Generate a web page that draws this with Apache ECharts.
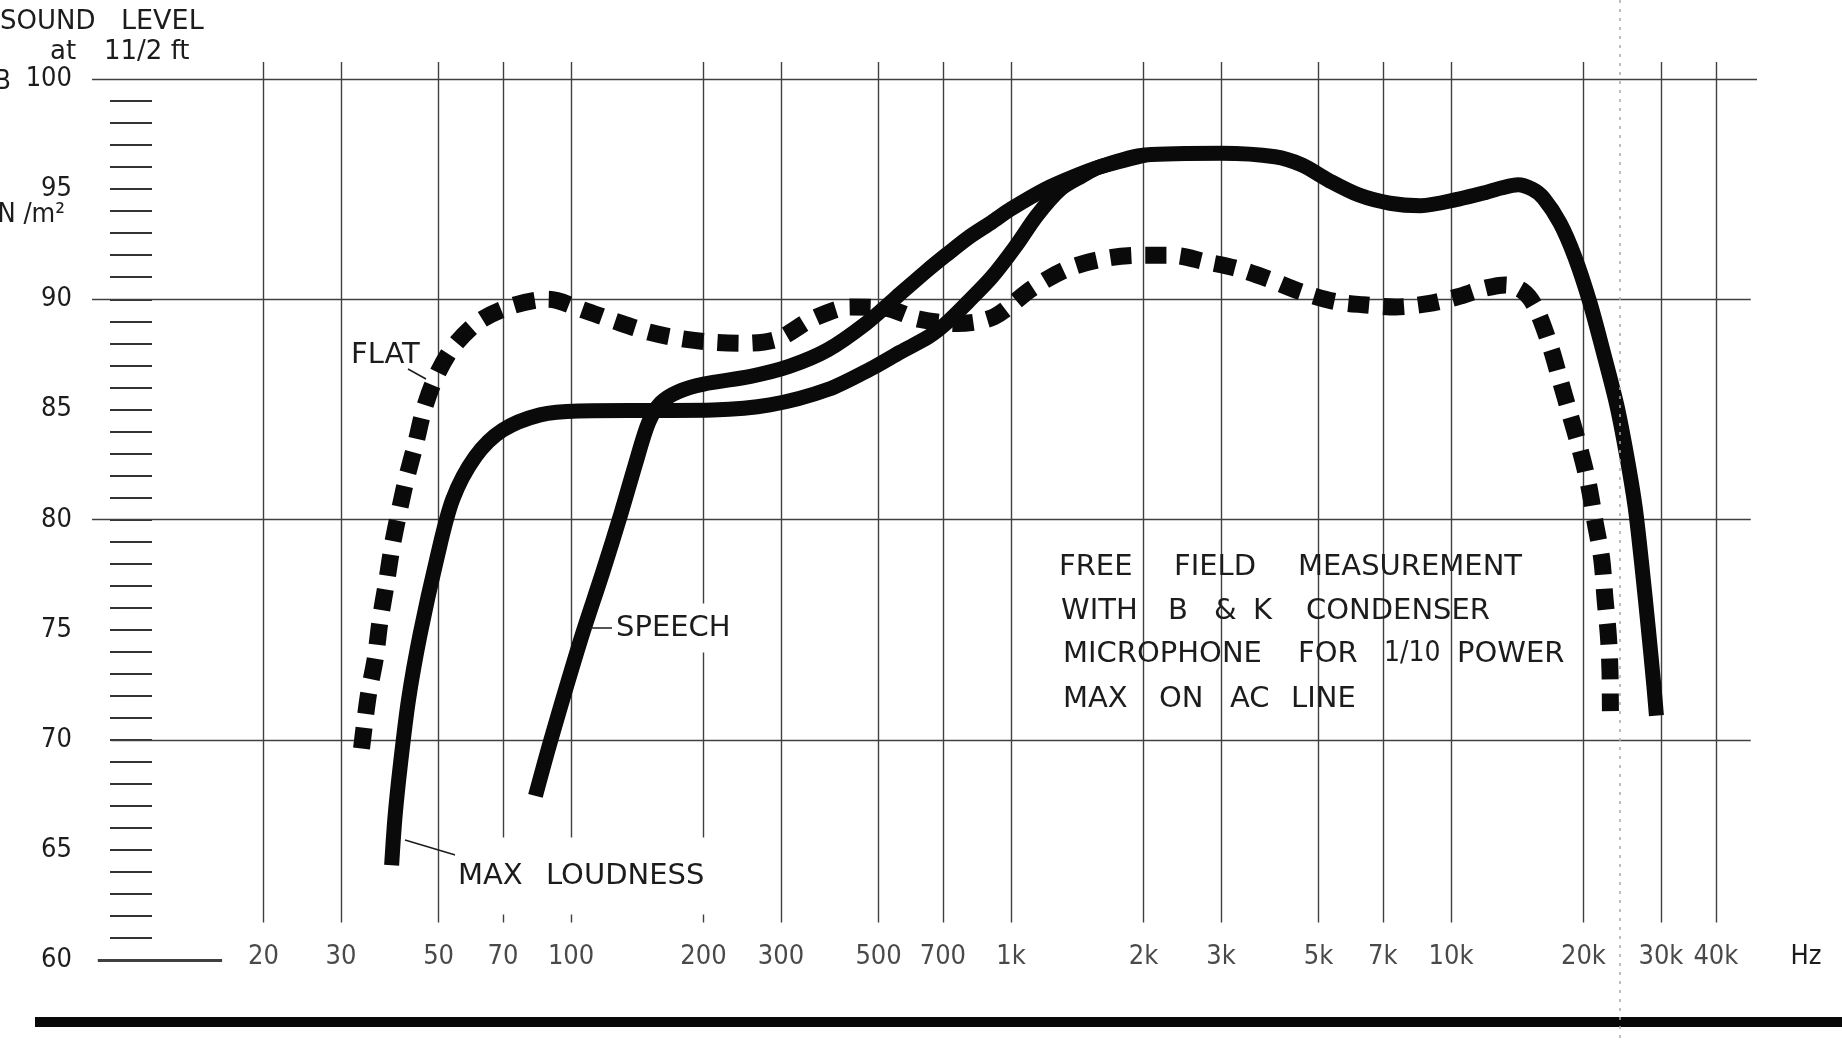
<!DOCTYPE html>
<html>
<head>
<meta charset="utf-8">
<script src="https://cdn.jsdelivr.net/npm/echarts@6/dist/echarts.min.js"></script>
<style>
html, body { margin: 0; padding: 0; background: #fff; }
#main { width: 1842px; height: 1043px; }
</style>
</head>
<body>
<div id="main"></div>
<script>
// curves, frequency in Hz and level in dB
var flatHz = [33.4, 34.6, 35.9, 36.8, 38.1, 39.3, 40.8, 42.3, 44.4, 46.3, 49.1, 53.8, 61.8, 73.4, 88.7, 107, 126, 151, 179, 210, 248, 295, 353, 431, 517, 617, 755, 914, 1117, 1350, 1633, 1954, 2319, 2775, 3261, 3866, 4539, 5436, 6310, 7482, 8866, 10310, 11950, 13300, 14500, 15500, 16790, 17690, 18620, 19630, 20510, 21250, 22010, 22390, 22790, 22980, 23030];
var flatDb = [69.6, 72.0, 73.7, 75.4, 77.2, 78.9, 80.5, 81.9, 83.5, 85.0, 86.4, 87.8, 89.0, 89.7, 90.0, 89.5, 89.0, 88.5, 88.2, 88.05, 88.0, 88.2, 89.1, 89.65, 89.6, 89.1, 88.9, 89.2, 90.5, 91.4, 91.85, 92.0, 92.0, 91.7, 91.4, 90.9, 90.35, 89.9, 89.75, 89.65, 89.8, 90.1, 90.5, 90.65, 90.4, 89.7, 87.9, 86.35, 84.8, 83.2, 81.65, 79.9, 78.2, 76.4, 74.7, 73.1, 71.3];

var maxHz = [39.1, 39.8, 40.9, 42.7, 45.4, 49.5, 53.8, 60.6, 69.8, 85, 104, 155, 210, 283, 383, 486, 560, 650, 711, 800, 904, 1024, 1145, 1295, 1450, 1585, 2017, 3006, 3981, 4580, 5272, 6180, 7265, 8528, 10410, 12000, 13000, 14200, 15300, 16220, 17690, 19130, 20700, 22190, 23810, 25080, 26200, 27120, 28070, 28910, 29300];
var maxDb = [64.3, 66.5, 68.8, 71.8, 74.8, 78.2, 80.9, 82.85, 84.05, 84.75, 84.93, 84.95, 84.97, 85.2, 85.9, 86.9, 87.6, 88.3, 88.9, 89.9, 91.0, 92.4, 93.8, 95.0, 95.6, 96.0, 96.55, 96.63, 96.47, 96.1, 95.4, 94.73, 94.36, 94.25, 94.55, 94.85, 95.05, 95.2, 95.0, 94.6, 93.46, 91.9, 89.83, 87.6, 85.2, 82.9, 80.6, 78.0, 75.1, 72.45, 71.1];

var speechHz = [83, 90, 105, 118, 130, 140, 150, 160, 175, 200, 256, 313, 383, 468, 549, 644, 711, 800, 904, 1000, 1197, 1400, 1585, 2017];
var speechDb = [67.45, 70.0, 74.5, 77.6, 80.3, 82.5, 84.4, 85.3, 85.8, 86.15, 86.5, 86.95, 87.7, 88.9, 90.1, 91.3, 92.0, 92.8, 93.5, 94.1, 95.0, 95.6, 96.0, 96.55];

var gridHz = [20, 30, 50, 70, 100, 200, 300, 500, 700, 1000, 2000, 3000, 5000, 7000, 10000, 20000, 30000, 40000];
var gridHzLabels = ['20', '30', '50', '70', '100', '200', '300', '500', '700', '1k', '2k', '3k', '5k', '7k', '10k', '20k', '30k', '40k'];
var dbLabels = [60, 65, 70, 75, 80, 85, 90, 95, 100];
var dbTicks = [61, 62, 63, 64, 65, 66, 67, 68, 69, 70, 71, 72, 73, 74, 75, 76, 77, 78, 79, 80, 81, 82, 83, 84, 85, 86, 87, 88, 89, 90, 91, 92, 93, 94, 95, 96, 97, 98, 99];
var dbGrid = [100, 90, 80, 70];

// note in the box, word by word: [text, left x, line]
var noteWords = [
  ['FREE', 1059, 0], ['FIELD', 1174, 0], ['MEASUREMENT', 1298, 0],
  ['WITH', 1061, 1], ['B', 1168, 1], ['&', 1214, 1], ['K', 1253, 1], ['CONDENSER', 1306, 1],
  ['MICROPHONE', 1063, 2], ['FOR', 1298, 2], ['1/10', 1384, 2], ['POWER', 1457, 2],
  ['MAX', 1063, 3], ['ON', 1159, 3], ['AC', 1230, 3], ['LINE', 1291, 3]
];
var noteRowY = [567, 611, 654, 699];

var NUMFONT = "'DejaVu Sans Condensed', 'Liberation Sans Narrow', 'DejaVu Sans', sans-serif";
var FONT = "'DejaVu Sans', sans-serif";
var INK = '#1c1c1c';

function pairs(xs, ys) {
  return xs.map(function (x, i) { return [x, ys[i]]; });
}

var vLines = gridHz.map(function (f) {
  return [{ coord: [f, 61.7] }, { coord: [f, 100.77] }];
});
var hLines = dbGrid.map(function (d) {
  return [{ coord: [d === 70 ? 9.0 : 8.15, d] }, { coord: [d === 100 ? 49600 : 48000, d] }];
});
hLines.push([{ coord: [8.4, 60], lineStyle: { width: 3 } }, { coord: [16.1, 60] }]);

function txt(x, y, s, opt) {
  opt = opt || {};
  return {
    type: 'text', x: x, y: y, z: 20, silent: true,
    style: {
      text: s, fontSize: opt.size || 29, fontFamily: opt.font || FONT, fill: INK,
      align: opt.align || 'left', verticalAlign: 'middle',
      backgroundColor: opt.bg, padding: opt.pad
    }
  };
}
function seg(x1, y1, x2, y2, w) {
  return { type: 'line', z: 20, silent: true, shape: { x1: x1, y1: y1, x2: x2, y2: y2 }, style: { stroke: INK, lineWidth: w || 1.5 } };
}

var graphics = [
  txt(11, 82, 'dB', { align: 'right', size: 27, font: NUMFONT }),
  txt(0, 22, 'SOUND', { size: 26 }),
  txt(121, 22, 'LEVEL', { size: 27 }),
  txt(50, 52, 'at', { size: 26 }),
  txt(104, 52, '11/2 ft', { size: 26 }),
  txt(65, 215, 'N /m²', { align: 'right', size: 27, font: NUMFONT }),
  txt(351, 355, 'FLAT'),
  seg(408, 369, 426, 379),
  seg(590, 628, 612, 628),
  txt(614, 628, 'SPEECH', { bg: '#fff', pad: [10, 4, 10, 2] }),
  seg(405, 840, 462, 857),
  txt(455, 876, 'MAX', { bg: '#fff', pad: [8, 3, 40, 3] }),
  txt(543, 876, 'LOUDNESS', { bg: '#fff', pad: [8, 3, 40, 3] }),
  txt(1806, 957, 'Hz', { align: 'center', size: 27, font: NUMFONT }),
  { type: 'rect', z: 20, silent: true, shape: { x: 35, y: 1017, width: 1807, height: 10 }, style: { fill: '#080808' } },
  { type: 'line', z: 25, silent: true, shape: { x1: 1620, y1: 0, x2: 1620, y2: 1043 }, style: { stroke: '#aaa', lineWidth: 1.5, lineDash: [3, 6] } }
];
noteWords.forEach(function (w) {
  var isNum = w[0] === '1/10';
  graphics.push(txt(w[1], noteRowY[w[2]], w[0], isNum ? { font: NUMFONT, size: 28 } : null));
});

var chart = echarts.init(document.getElementById('main'));
chart.setOption({
  backgroundColor: '#fff',
  animation: false,
  grid: { left: 92, right: 85, top: 61.4, bottom: 83 },
  xAxis: {
    type: 'log', logBase: 10, min: 8.15, max: 49600,
    axisLine: { show: false }, axisTick: { show: false },
    axisLabel: { show: false }, splitLine: { show: false }
  },
  yAxis: [
    {
      type: 'value', min: 60, max: 100.8, position: 'left',
      axisLine: { show: false }, axisTick: { show: false }, splitLine: { show: false },
      axisLabel: { customValues: dbLabels, margin: 20, fontSize: 27, color: INK, fontFamily: NUMFONT }
    },
    {
      type: 'value', min: 60, max: 100.8, position: 'left', offset: -18,
      axisLine: { show: false }, axisLabel: { show: false }, splitLine: { show: false },
      axisTick: { show: true, inside: true, length: 42, customValues: dbTicks, lineStyle: { color: '#333', width: 2 } }
    }
  ],
  graphic: graphics,
  series: [
    {
      name: 'grid', type: 'line', data: [], z: 1, silent: true,
      markLine: {
        silent: true, symbol: ['none', 'none'], label: { show: false },
        lineStyle: { color: '#404040', width: 1.4, type: 'solid' },
        data: vLines.concat(hLines)
      }
    },
    {
      name: 'box', type: 'line', data: [], z: 3, silent: true,
      markArea: {
        silent: true, itemStyle: { color: '#fff' },
        data: [[{ coord: [1030, 79.2] }, { coord: [19400, 70.7] }]]
      }
    },
    {
      name: 'FLAT', type: 'line', data: pairs(flatHz, flatDb), z: 10,
      symbol: 'none', smooth: 0.3,
      lineStyle: { color: '#0a0a0a', width: 17, type: [21, 14], cap: 'butt', join: 'round' }
    },
    {
      name: 'MAX LOUDNESS', type: 'line', data: pairs(maxHz, maxDb), z: 10,
      symbol: 'none', smooth: 0.3,
      lineStyle: { color: '#0a0a0a', width: 15, cap: 'butt', join: 'round' }
    },
    {
      name: 'SPEECH', type: 'line', data: pairs(speechHz, speechDb), z: 10,
      symbol: 'none', smooth: 0.3,
      lineStyle: { color: '#0a0a0a', width: 15, cap: 'butt', join: 'round' }
    },
    {
      name: 'freq labels', type: 'scatter', z: 12, silent: true,
      symbol: 'rect', symbolSize: 1, itemStyle: { color: 'rgba(0,0,0,0)' },
      data: gridHz.map(function (f, i) { return { value: [f, 60], name: gridHzLabels[i] }; }),
      label: { show: true, position: 'inside', formatter: '{b}', offset: [0, -3], fontSize: 27, color: INK, fontFamily: NUMFONT }
    }
  ]
});
</script>
</body>
</html>
